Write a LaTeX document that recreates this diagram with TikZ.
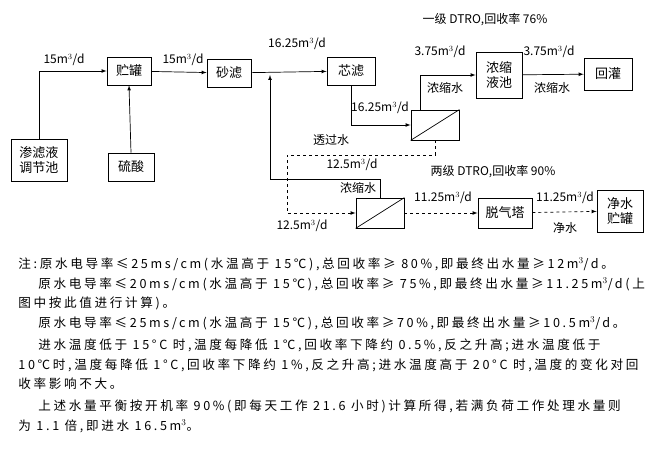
\documentclass[tikz,border=0pt]{standalone}
\usepackage{fontspec}
\setmainfont{Noto Sans CJK SC}
\newfontfamily\notefont[LetterSpace=21]{Noto Sans CJK SC}
\usetikzlibrary{arrows}
\begin{document}
\begin{tikzpicture}[x=1pt,y=-1pt,thick,
  box/.style={draw,line width=0.8pt,inner sep=2pt,align=center,minimum height=28pt,font=\fontsize{13}{15}\selectfont},
  mem/.style={draw,line width=0.8pt,minimum width=48pt,minimum height=30pt},
  flow/.style={line width=0.7pt,-latex},
  perm/.style={line width=0.7pt,dashed,-latex},
  lbl/.style={font=\fontsize{12}{13}\selectfont,inner sep=1pt},
  note/.style={anchor=west,font=\notefont\fontsize{12.6}{14}\selectfont,inner sep=0pt}]
\useasboundingbox (0,0) rectangle (654,462);
%%%%% Boxes %%%%%
\node[box,minimum width=56pt,minimum height=42pt] (pool) at (39,160) {渗滤液\\调节池};
\node[box,minimum width=46pt] (acid) at (131,167) {硫酸};
\node[box,minimum width=44pt] (tank) at (129,71) {贮罐};
\node[box,minimum width=44pt] (sand) at (229,73) {砂滤};
\node[box,minimum width=48pt] (core) at (351,71) {芯滤};
\node[mem] (m1) at (435,125) {};
\draw[line width=0.7pt] (m1.south west)--(m1.north east);
\node[box,minimum width=46pt,minimum height=46pt] (conc) at (499,75) {浓缩\\液池};
\node[box,minimum width=48pt,minimum height=32pt] (back) at (608,74) {回灌};
\node[mem] (m2) at (380,213) {};
\draw[line width=0.7pt] (m2.south west)--(m2.north east);
\node[box,minimum width=54pt,minimum height=30pt] (strip) at (505,213) {脱气塔};
\node[box,minimum width=46pt,minimum height=42pt] (clean) at (620,211) {净水\\贮罐};
%%%%% Labels %%%%%
\node[lbl] at (485,20) {一级 DTRO,回收率 76\%};
\node[lbl] at (493,172) {两级 DTRO,回收率 90\%};
\node[lbl] (l1) at (64,60) {15m$^3$/d};
\node[lbl] (l2) at (183,60) {15m$^3$/d};
\node[lbl] (l3) at (297,44) {16.25m$^3$/d};
\node[lbl] (l4) at (380,108) {16.25m$^3$/d};
\node[lbl] (l5) at (440,52) {3.75m$^3$/d};
\node[lbl] (l6) at (445,88) {浓缩水};
\node[lbl] (l7) at (549,52) {3.75m$^3$/d};
\node[lbl] (l8) at (552,88) {浓缩水};
\node[lbl] (l9) at (331,140) {透过水};
\node[lbl] (l10) at (352,165) {12.5m$^3$/d};
\node[lbl] (l11) at (358,188) {浓缩水};
\node[lbl] (l12) at (302,226) {12.5m$^3$/d};
\node[lbl] (l13) at (443,198) {11.25m$^3$/d};
\node[lbl] (l14) at (565,198) {11.25m$^3$/d};
\node[lbl] (l15) at (565,228) {净水};
%%%%% Flows %%%%%
\draw[flow] (pool.north) |- (tank.west);
\draw[flow] (acid.north) -- (tank.south);
\draw[flow] (tank) -- (sand);
\draw[flow] (sand) -- (core);
\draw[flow] (core.south) |- (m1.west);
\draw[flow] (m1.north -| 420,0) |- (conc.west);
\draw[flow] (conc) -- (back);
\draw[flow] (m2.north) |- (270,179) -- (270,75);
\draw[perm] (m1.south) |- (287,155) |- (m2.west);
\draw[perm] (m2) -- (strip);
\draw[perm] (strip) -- (clean);
%%%%% Notes %%%%%
\node[note] at (18,264) {注:原水电导率≤25ms/cm(水温高于 15℃),总回收率≥ 80\%,即最终出水量≥12m$^3$/d。};
\node[note] at (38,284) {原水电导率≤20ms/cm(水温高于 15℃),总回收率≥ 75\%,即最终出水量≥11.25m$^3$/d(上};
\node[note] at (18,303) {图中按此值进行计算)。};
\node[note] at (38,323) {原水电导率≤25ms/cm(水温高于 15℃),总回收率≥70\%,即最终出水量≥10.5m$^3$/d。};
\node[note] at (38,345) {进水温度低于 15°C 时,温度每降低 1℃,回收率下降约 0.5\%,反之升高;进水温度低于};
\node[note] at (18,365) {10℃时,温度每降低 1°C,回收率下降约 1\%,反之升高;进水温度高于 20°C 时,温度的变化对回};
\node[note] at (18,384) {收率影响不大。};
\node[note] at (38,406) {上述水量平衡按开机率 90\%(即每天工作 21.6 小时)计算所得,若满负荷工作处理水量则};
\node[note] at (18,426) {为 1.1 倍,即进水 16.5m$^3$。};
\end{tikzpicture}
\end{document}
